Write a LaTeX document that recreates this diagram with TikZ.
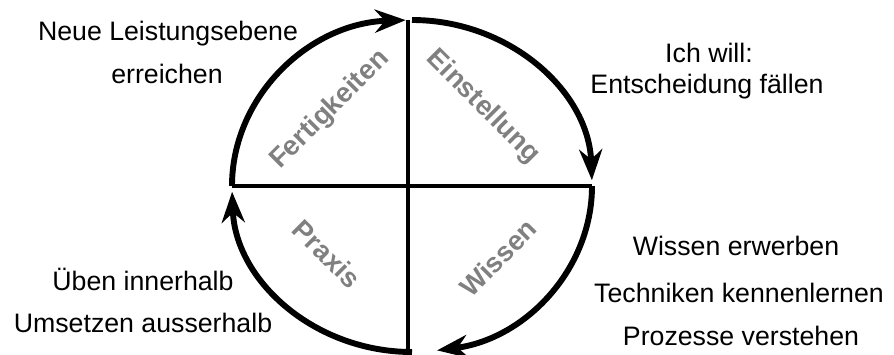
\documentclass[tikz,border=0pt]{standalone}
\usepackage{fontspec}
\setmainfont{Liberation Sans}
\usetikzlibrary{arrows.meta}

\tikzset{
  zeile/.style={font=\fontsize{19}{23}\selectfont, anchor=base},
  feld/.style={font=\fontsize{19.5}{21}\selectfont\bfseries, text=black!50},
  bogen/.style={line width=4.2pt, -{Stealth}},
  achse/.style={line width=2.4pt}
}

\begin{document}
\begin{tikzpicture}[>=Stealth]
  \useasboundingbox (0,0) rectangle (22.35,8.85);
  % axes
  \coordinate (oben) at (10.2,8.35);
  \coordinate (unten) at (10.2,0.05);
  \coordinate (links) at (5.8,4.2);
  \coordinate (rechts) at (14.8,4.2);
  \draw[achse] (oben) -- (unten);
  \draw[achse] (links) -- (rechts);
  % cycle
  \draw[bogen] (links) arc[start angle=180, end angle=92, x radius=4.5, y radius=4.15];
  \draw[bogen] (10.3,8.35) arc[start angle=90, end angle=2, x radius=4.5, y radius=4.15];
  \draw[bogen] (rechts) arc[start angle=0, end angle=-82, x radius=4.5, y radius=4.15];
  \draw[bogen] (10.3,0.05) arc[start angle=-90, end angle=-178, x radius=4.5, y radius=4.15];
  % quadrants
  \node[feld, rotate=45] (fert) at (8.25,6.1) {Fertigkeiten};
  \node[feld, rotate=-45] (einst) at (12.075,6.175) {Einstellung};
  \node[feld, rotate=-45] (praxis) at (8.175,2.5) {Praxis};
  \node[feld, rotate=45] (wissen) at (12.45,2.4) {Wissen};
  % texts
  \node[zeile] (neue) at (4.2,7.85) {Neue Leistungsebene};
  \node[zeile] (erreichen) at (4.175,6.775) {erreichen};
  \node[zeile] (ich) at (17.725,7.3) {Ich will:};
  \node[zeile] (entsch) at (17.675,6.525) {Entscheidung fällen};
  \node[zeile] (ueben) at (3.575,1.6) {Üben innerhalb};
  \node[zeile] (umsetzen) at (3.575,0.55) {Umsetzen ausserhalb};
  \node[zeile] (erwerben) at (18.4,2.475) {Wissen erwerben};
  \node[zeile] (techniken) at (18.475,1.3) {Techniken kennenlernen};
  \node[zeile] (prozesse) at (18.525,0.225) {Prozesse verstehen};
\end{tikzpicture}
\end{document}
